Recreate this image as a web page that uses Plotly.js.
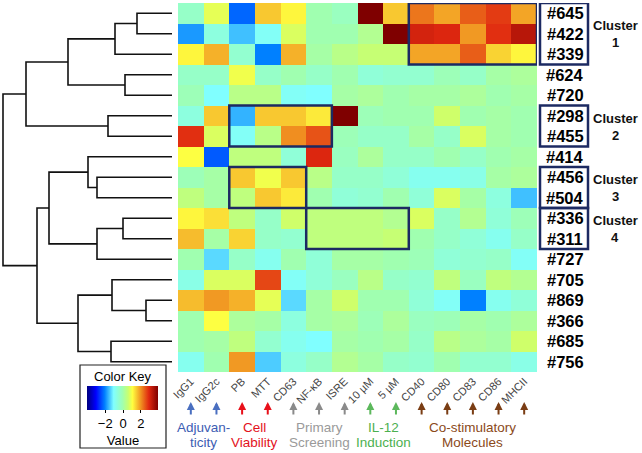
<!DOCTYPE html>
<html>
<head>
<meta charset="utf-8">
<script src="https://cdn.plot.ly/plotly-3.0.1.min.js"></script>
<style>
  html, body { margin: 0; padding: 0; background: #fff; }
  #chart { width: 642px; height: 453px; }
</style>
</head>
<body>
<div id="chart"></div>
<script>
// filas (compuestos) en el orden del dendrograma
const samples = ["#645", "#422", "#339", "#624", "#720", "#298", "#455", "#414", "#456",
  "#504", "#336", "#311", "#727", "#705", "#869", "#366", "#685", "#756"];

const markers = ["IgG1", "IgG2c", "PB", "MTT", "CD63", "NF-κB", "ISRE", "10 µM", "5 µM",
  "CD40", "CD80", "CD83", "CD86", "MHCII"];

const values = [
  [-0.3, 0.9, -2.2, 1.6, 1.2, 0.0, -0.2, 4.0, 1.6, 2.3, 1.9, 2.5, 2.8, 1.9],
  [-1.8, -0.6, -1.5, -0.9, 0.8, 0.0, 0.0, 0.3, 4.0, 3.1, 3.0, 2.0, 2.9, 3.4],
  [1.2, 1.8, -0.4, -2.0, 1.8, 0.1, 0.4, 0.6, 0.6, 1.9, 1.9, 2.5, 1.5, 1.2],
  [-0.3, -0.3, 1.0, -0.3, 0.0, -0.3, 0.0, -0.5, -0.4, -0.4, -0.1, -0.3, 0.1, 0.2],
  [-0.1, -1.0, 0.4, 0.4, -0.9, -1.0, 0.1, 0.2, 0.0, 0.1, 0.1, 0.2, 0.0, 0.1],
  [-0.6, 1.6, -1.6, 1.6, 1.6, 1.3, 4.0, -0.1, 0.0, 0.0, 0.7, 0.0, 0.1, 0.0],
  [2.9, 0.8, -0.9, 0.4, 2.1, 2.6, -0.1, -0.3, -0.3, 0.1, -0.3, 0.8, 0.1, 0.0],
  [1.1, -2.3, 0.5, 0.5, -0.5, 3.0, -0.2, 0.2, -0.3, -0.3, 0.0, -0.3, 0.0, 0.1],
  [-0.1, 0.1, 1.6, 1.0, 1.6, 0.4, -0.3, -0.3, -0.5, -0.8, -0.8, -0.7, 0.1, 0.2],
  [0.5, 0.1, 0.5, 1.6, 1.3, 0.0, -0.5, -0.4, 0.0, -0.5, 0.8, 0.1, -0.6, -1.5],
  [1.2, 1.4, 0.5, -0.3, 0.7, 0.5, 0.5, 0.5, 0.3, 0.8, -0.3, 0.3, -0.5, -0.1],
  [1.7, 0.1, 1.5, -0.3, -0.4, 0.5, 0.5, 0.5, 0.6, 0.0, -0.3, -0.5, -0.8, -0.3],
  [0.0, -1.3, -0.3, -0.8, 0.0, -0.5, 0.1, 0.1, 0.0, -0.1, -0.5, -0.4, -0.3, -0.9],
  [-0.7, 0.8, 0.8, 2.7, -0.9, -0.5, -0.2, 0.4, -0.3, -0.4, 0.5, -0.2, 0.5, 0.3],
  [1.7, 2.0, 1.8, 0.9, -1.3, 0.1, 0.7, 0.0, 0.0, -0.5, -0.9, -2.0, -0.8, -0.5],
  [0.0, 1.1, 0.2, 0.1, -0.6, 0.1, 0.2, -0.1, 0.2, -0.2, -0.1, 0.1, 0.0, 0.2],
  [0.0, 0.1, 0.5, -0.4, -0.8, -1.0, 0.1, 0.0, 0.1, -0.3, 0.4, 0.2, 0.1, 0.7],
  [-0.8, 0.0, 2.0, -1.4, -0.6, -0.3, 0.3, 0.1, -0.3, -0.4, 0.0, -0.4, -0.4, -0.7],
];

// uniones del dendrograma: [hijo a, hijo b, altura]; hojas 0..17, nodos 18+
const merges = [
  [0, 1, 35], [18, 2, 57], [3, 4, 47], [19, 20, 104], [5, 6, 64], [21, 22, 146],
  [8, 9, 75], [7, 24, 84], [10, 11, 49], [26, 12, 75], [25, 27, 123],
  [14, 15, 26], [13, 29, 60], [16, 17, 61], [30, 31, 94], [28, 32, 135], [23, 33, 169],
];

const clusterNames = ["1", "2", "3", "4"];
const clusterRows = [[0, 2], [5, 6], [8, 9], [10, 11]];
const clusterCols = [[9, 13], [2, 5], [2, 4], [5, 8]];

const groupLine1 = ["Adjuvan-", "Cell", "Primary", "IL-12", "Co-stimulatory"];
const groupLine2 = ["ticity", "Viability", "Screening", "Induction", "Molecules"];
const groupCols = [[0, 1], [2, 3], [4, 5, 6], [7, 8], [9, 10, 11, 12, 13]];
const groupArrow = ["#4a6fc0", "#e8101a", "#8a8a8a", "#5cb85c", "#7a3d14"];
const groupText = ["#3d5db3", "#e3121c", "#9a9a9a", "#4cb050", "#8b4a1a"];

const W = 642, H = 453;
const px = (v) => v / W;
const py = (v) => 1 - v / H;

// Segmentos del dendrograma
const nodeY = samples.map((_, i) => i);
const nodeH = samples.map(() => 0);
const dx = [], dy = [];
merges.forEach(([a, b, h]) => {
  dx.push(nodeH[a], h, h, nodeH[b], null);
  dy.push(nodeY[a], nodeY[a], nodeY[b], nodeY[b], null);
  nodeY.push((nodeY[a] + nodeY[b]) / 2);
  nodeH.push(h);
});

const colorscale = [
  [0, "#00007f"], [0.125, "#0000ff"], [0.25, "#0080ff"],
  [0.375, "#80ffff"], [0.5, "#a0ffb0"], [0.58, "#c8ff70"], [0.64, "#ffff40"],
  [0.7, "#f8c830"], [0.76, "#f09020"], [0.87, "#e02810"], [1, "#7f0000"],
];

const traces = [
  {
    type: "heatmap",
    z: values,
    x: markers.map((_, i) => i),
    y: samples.map((_, i) => i),
    zmin: -4, zmax: 4,
    colorscale,
    xaxis: "x", yaxis: "y",
    colorbar: {
      orientation: "h",
      x: px(123), xanchor: "center", xref: "paper",
      y: py(386), yanchor: "top", yref: "paper",
      len: 71, lenmode: "pixels",
      thickness: 24, thicknessmode: "pixels",
      xpad: 0, ypad: 0,
      tickvals: [-2, 0, 2], tickangle: 0,
      ticks: "outside", ticklen: 3, tickcolor: "#000",
      tickfont: { size: 13, color: "#000" },
      outlinewidth: 0,
      title: { text: "Value", side: "bottom", font: { size: 13, color: "#000" } },
    },
  },
  {
    type: "scatter", mode: "lines",
    x: dx, y: dy,
    xaxis: "x2", yaxis: "y",
    line: { color: "#111", width: 1.6 },
    hoverinfo: "skip", showlegend: false,
  },
];

const shapes = [];
const annotations = [];
const note = (o) => annotations.push(Object.assign({ showarrow: false, xanchor: "center", yanchor: "middle" }, o));

// recuadros de los clusters
clusterRows.forEach((r, k) => {
  const c = clusterCols[k];
  shapes.push({
    type: "rect", xref: "x", yref: "y",
    x0: c[0] - 0.5, x1: c[1] + 0.5, y0: r[0] - 0.5, y1: r[1] + 0.5,
    line: { color: "#1c2a62", width: 2.5 },
  });
  shapes.push({
    type: "rect", xref: "paper", yref: "y",
    x0: px(540), x1: px(588), y0: r[0] - 0.5, y1: r[1] + 0.5,
    line: { color: "#1c2a62", width: 2.5 },
  });
  const mid = (r[0] + r[1]) / 2;
  note({ xref: "paper", yref: "y", x: px(615), y: mid, yshift: 8,
    text: "<b>Cluster</b>", font: { size: 13, color: "#111" } });
  note({ xref: "paper", yref: "y", x: px(615), y: mid, yshift: -9,
    text: "<b>" + clusterNames[k] + "</b>", font: { size: 13, color: "#111" } });
});

// etiquetas de filas
samples.forEach((s, i) => {
  note({ xref: "paper", yref: "y", x: px(565), y: i,
    text: "<b>" + s + "</b>", font: { size: 16.5, color: "#000" } });
});

// flechas y grupos
groupCols.forEach((cols, g) => {
  cols.forEach((c) => {
    annotations.push({
      xref: "x", yref: "paper", x: c, y: py(402),
      ax: 0, ay: 14, text: "", showarrow: true,
      arrowhead: 2, arrowsize: 0.8, arrowwidth: 2, arrowcolor: groupArrow[g],
    });
  });
  const cx = cols.reduce((s, v) => s + v, 0) / cols.length;
  note({ xref: "x", yref: "paper", x: cx, y: py(427), text: groupLine1[g],
    font: { size: 13.5, color: groupText[g] } });
  note({ xref: "x", yref: "paper", x: cx, y: py(442), text: groupLine2[g],
    font: { size: 13.5, color: groupText[g] } });
});

// Color key
note({ xref: "paper", yref: "paper", x: px(123), y: py(376), text: "Color Key",
  font: { size: 13, color: "#000" } });
shapes.push({
  type: "rect", xref: "paper", yref: "paper",
  x0: px(80), x1: px(166), y0: py(448), y1: py(365),
  line: { color: "#222", width: 1.2 },
});

const layout = {
  width: W, height: H,
  margin: { l: 0, r: 0, t: 0, b: 0, autoexpand: false },
  paper_bgcolor: "#fff", plot_bgcolor: "#fff",
  font: { family: "Liberation Sans, Arial, sans-serif", color: "#000" },
  showlegend: false,
  xaxis: {
    domain: [px(178), px(537)], range: [-0.5, 13.5], anchor: "y",
    tickvals: markers.map((_, i) => i), ticktext: markers, automargin: false,
    tickangle: -45, ticks: "", showgrid: false, zeroline: false, showline: false,
    tickfont: { size: 11, color: "#444" },
  },
  yaxis: {
    domain: [py(372), py(3)], range: [17.5, -0.5], anchor: "x", automargin: false,
    showticklabels: false, ticks: "", showgrid: false, zeroline: false,
  },
  xaxis2: {
    domain: [0, px(172)], range: [172, 0], anchor: "y", visible: false,
  },
  shapes, annotations,
};

Plotly.newPlot("chart", traces, layout, { staticPlot: true });
</script>
</body>
</html>
